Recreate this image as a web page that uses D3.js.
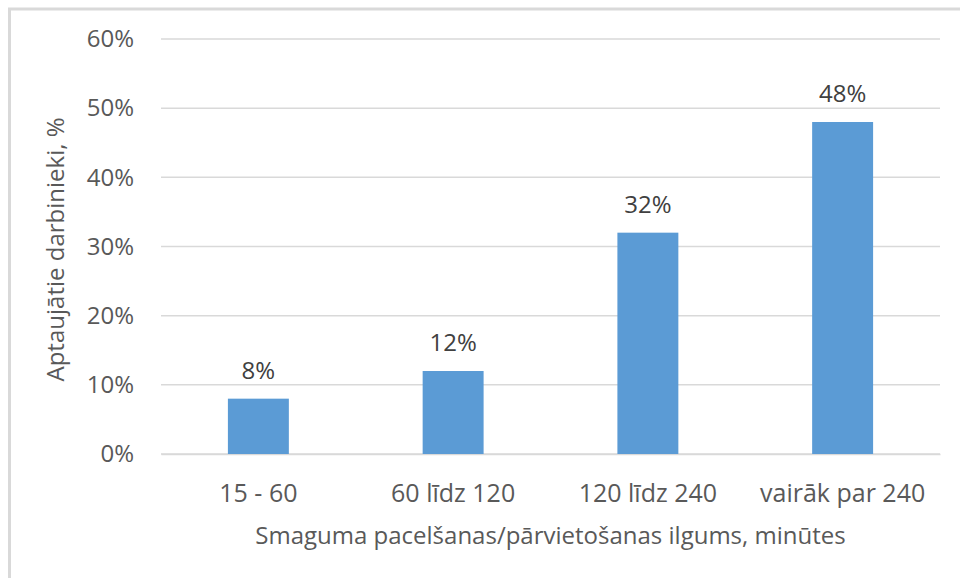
<!DOCTYPE html>
<html>
<head>
<meta charset="utf-8">
<script src="https://cdn.jsdelivr.net/npm/d3@7"></script>
<style>
  body { margin: 0; background: #fff; }
  text { font-family: "Open Sans", sans-serif; }
</style>
</head>
<body>
<div id="chart"></div>
<script>
// data
var categories = ["15 - 60", "60 līdz 120", "120 līdz 240", "vairāk par 240"];
var values = [0.08, 0.12, 0.32, 0.48];
var yTicks = [0, 0.1, 0.2, 0.3, 0.4, 0.5, 0.6];
var xTitle = "Smaguma pacelšanas/pārvietošanas ilgums, minūtes";
var yTitle = "Aptaujātie darbinieki, %";

var svgWidth = 960;
var svgHeight = 578;

var margin = { top: 39, right: 20, bottom: 124, left: 161 };
var chartWidth = svgWidth - margin.left - margin.right;
var chartHeight = svgHeight - margin.top - margin.bottom;

var svg = d3.select("#chart")
    .append("svg")
    .attr("width", svgWidth)
    .attr("height", svgHeight);

// outer frame (only top and left edges are visible)
svg.append("rect")
    .attr("x", 9.5)
    .attr("y", 9)
    .attr("width", 1000)
    .attr("height", 1000)
    .attr("fill", "none")
    .attr("stroke", "#d9d9d9")
    .attr("stroke-width", 3);

var chartGroup = svg.append("g")
    .attr("transform", `translate(${margin.left}, ${margin.top})`);

var xScale = d3.scaleBand()
    .domain(categories)
    .range([0, chartWidth])
    .paddingInner(0.687)
    .paddingOuter(0.3435);

var yScale = d3.scaleLinear()
    .domain([0, 0.6])
    .range([chartHeight, 0]);

// gridlines
chartGroup.append("g")
    .selectAll("line")
    .data(yTicks)
    .enter()
    .append("line")
    .attr("x1", 0)
    .attr("x2", chartWidth)
    .attr("y1", d => yScale(d))
    .attr("y2", d => yScale(d))
    .attr("stroke", "#d9d9d9")
    .attr("stroke-width", 1.5);

// y axis labels
var leftAxis = d3.axisLeft(yScale)
    .tickValues(yTicks)
    .tickFormat(d3.format(".0%"))
    .tickSize(0)
    .tickPadding(27);

var yAxisG = chartGroup.append("g").call(leftAxis);
yAxisG.select(".domain").remove();
yAxisG.selectAll("text")
    .style("font-size", "24px")
    .attr("fill", "#595959");

// x axis labels
var bottomAxis = d3.axisBottom(xScale).tickSize(0).tickPadding(0);
var xAxisG = chartGroup.append("g")
    .attr("transform", `translate(0, ${chartHeight})`)
    .call(bottomAxis);
xAxisG.select(".domain").attr("stroke", "#d9d9d9").attr("stroke-width", 1.5);
xAxisG.selectAll("text")
    .attr("dy", null)
    .attr("y", 48)
    .style("font-size", "25px")
    .attr("fill", "#595959");

// bars
chartGroup.selectAll("rect.bar")
    .data(values)
    .enter()
    .append("rect")
    .attr("class", "bar")
    .attr("x", (d, i) => xScale(categories[i]))
    .attr("y", d => yScale(d))
    .attr("width", xScale.bandwidth())
    .attr("height", d => chartHeight - yScale(d))
    .attr("fill", "#5b9bd5");

// bar labels
chartGroup.selectAll("text.lbl")
    .data(values)
    .enter()
    .append("text")
    .attr("class", "lbl")
    .attr("x", (d, i) => xScale(categories[i]) + xScale.bandwidth() / 2)
    .attr("y", d => yScale(d) - 20)
    .attr("text-anchor", "middle")
    .style("font-size", "24px")
    .attr("fill", "#404040")
    .text(d => d3.format(".0%")(d));

// x axis title
chartGroup.append("text")
    .attr("x", chartWidth / 2)
    .attr("y", chartHeight + 90)
    .attr("text-anchor", "middle")
    .style("font-size", "24px")
    .attr("fill", "#595959")
    .text(xTitle);

// y axis title
chartGroup.append("text")
    .attr("transform", "rotate(-90)")
    .attr("x", -chartHeight / 2 - 3)
    .attr("y", 64 - margin.left)
    .attr("text-anchor", "middle")
    .style("font-size", "24px")
    .attr("fill", "#595959")
    .text(yTitle);
</script>
</body>
</html>
